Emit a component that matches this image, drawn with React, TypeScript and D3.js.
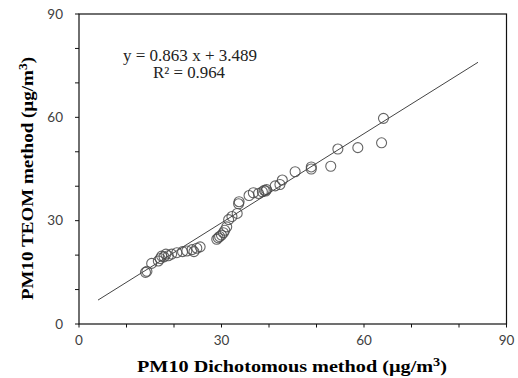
import * as d3 from "d3";

// PM10: dichotomous sampler (x) vs TEOM (y), µg/m³
const dichoValues = [
  14.0, 14.3, 15.3, 16.7, 17.1, 17.4, 17.9, 18.3, 18.8, 19.5, 20.6, 21.8, 22.7, 23.8, 24.2, 24.8, 25.5,
  29.0, 29.3, 29.6, 30.0, 30.4, 30.7, 31.1, 31.5, 32.2, 33.3, 33.6, 33.7, 35.8, 36.7, 37.8, 38.6, 39.0,
  39.3, 39.5, 41.3, 42.3, 42.8, 45.5, 48.9, 48.9, 53.0, 54.5, 58.7, 63.7, 64.1,
];
const teomValues = [
  15.0, 15.3, 17.6, 18.3, 19.0, 19.7, 19.5, 20.3, 19.8, 20.3, 20.7, 21.0, 21.2, 21.6, 21.0, 22.0, 22.4,
  24.6, 25.0, 25.4, 25.8, 26.5, 27.2, 28.2, 30.3, 31.2, 32.1, 34.9, 35.5, 37.3, 38.1, 37.9, 38.4, 38.8,
  38.6, 39.0, 40.1, 40.5, 41.8, 44.2, 45.0, 45.6, 45.8, 50.8, 51.2, 52.6, 59.7,
];
const slope = 0.863;
const intercept = 3.489;
const fitRange = [4, 84];
const majorTicks = [0, 30, 60, 90];
const minorTicks = [0, 10, 20, 30, 40, 50, 60, 70, 80, 90];

export default function App() {
  const W = 518, H = 378;
  const m = { left: 79, right: 11.5, top: 14, bottom: 54 };
  const x = d3.scaleLinear().domain([0, 90]).range([m.left, W - m.right]);
  const y = d3.scaleLinear().domain([0, 90]).range([H - m.bottom, m.top]);

  const fitLine = d3.line<number>().x(d => x(d)).y(d => y(slope * d + intercept));
  const pts = dichoValues.map((d, i) => [d, teomValues[i]] as [number, number]);

  const tickFont = "Lato, 'Open Sans', sans-serif";
  const serif = "'Liberation Serif', 'Times New Roman', serif";

  return (
    <svg width={W} height={H} style={{ position: "absolute", left: 0, top: 0, background: "#fff" }}>
      {/* plot frame */}
      <rect x={x(0)} y={y(90)} width={x(90) - x(0)} height={y(0) - y(90)} fill="none" stroke="#111" strokeWidth={1.2} />

      {/* ticks */}
      {minorTicks.map(t => (
        <g key={"t" + t}>
          <line x1={x(t)} x2={x(t)} y1={y(0)} y2={y(0) + 3.5} stroke="#111" strokeWidth={1} />
          <line x1={x(0) - 4} x2={x(0)} y1={y(t)} y2={y(t)} stroke="#111" strokeWidth={1} />
        </g>
      ))}
      {majorTicks.map(t => (
        <g key={"l" + t} fontFamily={tickFont} fontSize={13.5} fill="#404040">
          <text x={x(t)} y={y(0) + 21} textAnchor="middle">{t}</text>
          <text x={x(0) - 16} y={y(t) + 4.5} textAnchor="end">{t}</text>
        </g>
      ))}

      {/* regression line */}
      <path d={fitLine(fitRange) ?? ""} fill="none" stroke="#444" strokeWidth={1} />

      {/* observations */}
      {pts.map(([a, b], i) => (
        <circle key={i} cx={x(a)} cy={y(b)} r={5} fill="none" stroke="#4a4a4a" strokeWidth={1.1} strokeOpacity={0.85} />
      ))}

      {/* equation */}
      <g fontFamily={serif} fontSize={16} fill="#222">
        <text x={123} y={61} textLength={134} lengthAdjust="spacingAndGlyphs">y = 0.863 x + 3.489</text>
        <text x={153} y={78} textLength={72} lengthAdjust="spacingAndGlyphs">R² = 0.964</text>
      </g>

      {/* axis titles */}
      <text x={137} y={372} textLength={310} lengthAdjust="spacingAndGlyphs" fontFamily={serif} fontSize={17} fontWeight="bold" fill="#000">
        PM10 Dichotomous method (µg/m<tspan dy={-6} fontSize={12}>3</tspan><tspan dy={6}>)</tspan>
      </text>
      <text transform={`translate(33,300) rotate(-90)`} textLength={243} lengthAdjust="spacingAndGlyphs" fontFamily={serif} fontSize={17} fontWeight="bold" fill="#000">
        PM10 TEOM method (µg/m<tspan dy={-6} fontSize={12}>3</tspan><tspan dy={6}>)</tspan>
      </text>
    </svg>
  );
}
